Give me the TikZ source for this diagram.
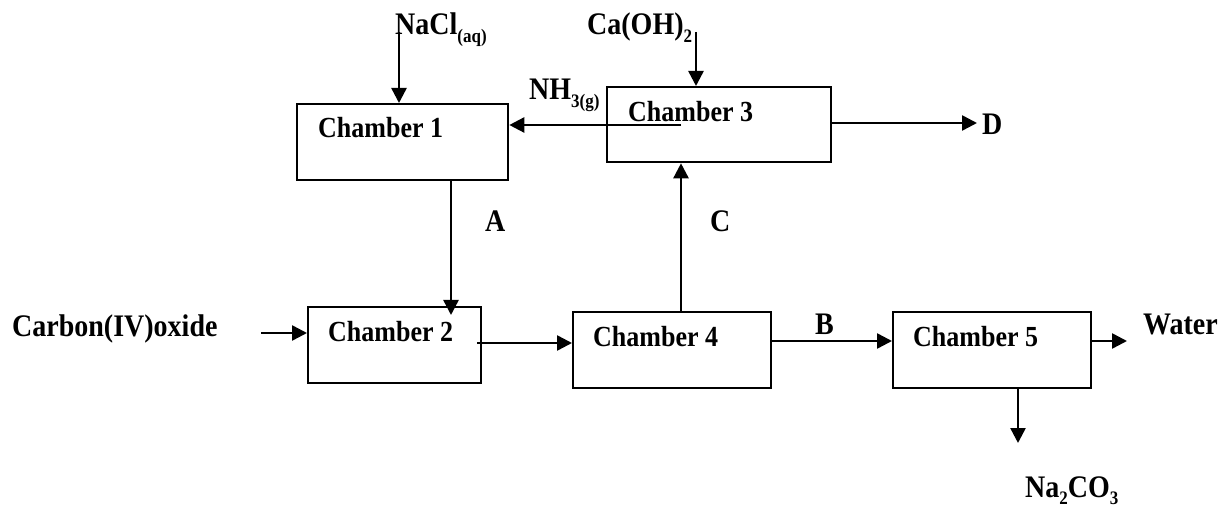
\documentclass[tikz,border=0pt]{standalone}
\usepackage{fontspec}
\setmainfont{Liberation Serif}
\usetikzlibrary{arrows.meta}
\newcommand{\vs}[1]{\scalebox{1}[1.12]{#1}}
\newcommand{\chsub}[1]{\raisebox{-0.25em}{\fontsize{17}{17}\selectfont #1}}
\tikzset{
  box/.style={draw, line width=2.3pt, anchor=north west, inner sep=0pt},
  lab/.style={anchor=base west, inner sep=0pt, font=\fontsize{28}{30}\selectfont\bfseries},
  chlab/.style={anchor=base west, inner sep=0pt, font=\fontsize{26}{30}\selectfont\bfseries},
  flow/.style={line width=2.5pt, -{Triangle[length=15pt,width=15pt]}},
}
\begin{document}
\begin{tikzpicture}[x=1pt,y=-1pt]
\useasboundingbox (0,0) rectangle (1223,510);
% boxes
\node[box, minimum width=211pt, minimum height=76pt] (c1) at (296,103) {};
\node[box, minimum width=173pt, minimum height=76pt] (c2) at (307,306) {};
\node[box, minimum width=224pt, minimum height=75pt] (c3) at (606,86) {};
\node[box, minimum width=198pt, minimum height=76pt] (c4) at (572,311) {};
\node[box, minimum width=198pt, minimum height=76pt] (c5) at (892,311) {};
% chamber texts
\node[chlab] (t1) at (318,138) {\vs{Chamber 1}};
\node[chlab] (t2) at (328,342) {\vs{Chamber 2}};
\node[chlab] (t3) at (628,122) {\vs{Chamber 3}};
\node[chlab] (t4) at (593,347) {\vs{Chamber 4}};
\node[chlab] (t5) at (913,347) {\vs{Chamber 5}};
% labels
\node[lab] (nacl) at (395,35) {\vs{NaCl\chsub{(aq)}}};
\node[lab] (caoh) at (587,35) {\vs{Ca(OH)\chsub{2}}};
\node[lab] (nh3) at (529,100) {\vs{NH\chsub{3(g)}}};
\node[lab] (d) at (982,135) {\vs{D}};
\node[lab] (a) at (485,232) {\vs{A}};
\node[lab] (c) at (710,232) {\vs{C}};
\node[lab] (co2) at (12,337) {\vs{Carbon(IV)oxide}};
\node[lab] (b) at (815,335) {\vs{B}};
\node[lab] (water) at (1143,335) {\vs{Water}};
\node[lab] (na2co3) at (1025,497) {\vs{Na\chsub{2}CO\chsub{3}}};
% connector end points
\coordinate (naclin) at (399,32);
\coordinate (caohin) at (696,32);
\coordinate (nh3out) at (681,125);
\coordinate (co2in) at (261,333);
\coordinate (dout) at (977,123);
\coordinate (waterout) at (1127,341);
\coordinate (naout) at (1018,443);
% connectors
\draw[flow] (naclin) -- (naclin |- c1.north);
\draw[flow] (caohin) -- (caohin |- c3.north);
\draw[flow] (nh3out) -- (nh3out -| c1.east);
\draw[flow] (c1.south -| 451,0) -- (451,315);
\draw[flow] (co2in) -- (co2in -| c2.west);
\draw[flow] (477,343) -- (477,343 -| c4.west);
\draw[flow] (c4.north -| 681,0) -- (681,0 |- c3.south);
\draw[flow] (c4.east |- 0,341) -- (0,341 -| c5.west);
\draw[flow] (c3.east |- dout) -- (dout);
\draw[flow] (c5.east |- waterout) -- (waterout);
\draw[flow] (c5.south -| naout) -- (naout);
\end{tikzpicture}
\end{document}
